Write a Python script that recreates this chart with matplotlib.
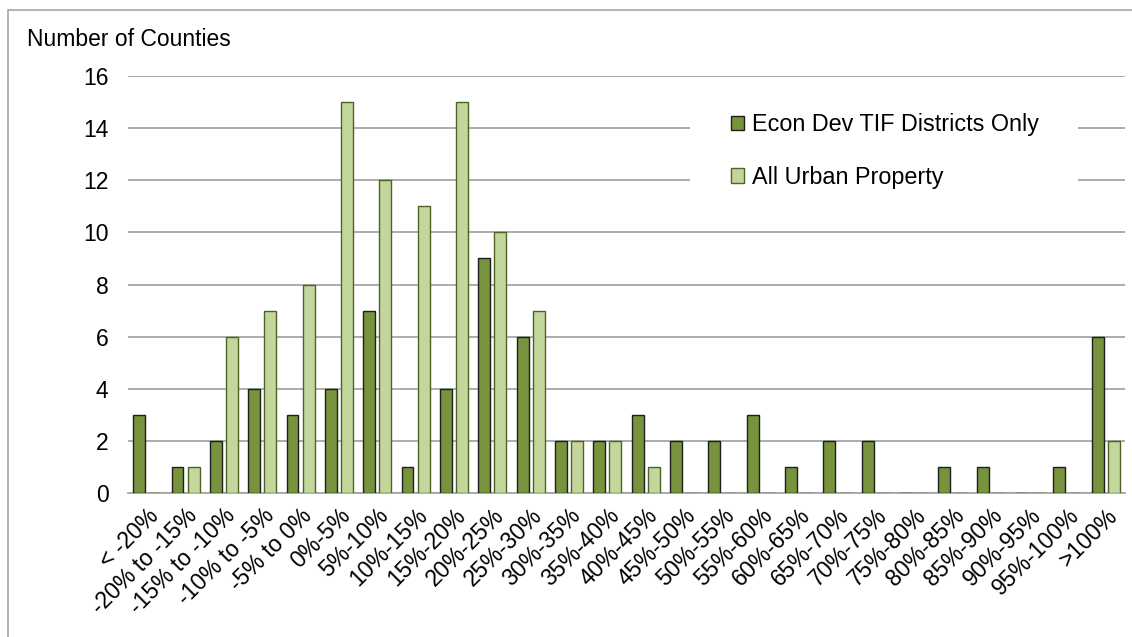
import matplotlib
matplotlib.use("Agg")
import matplotlib.pyplot as plt
import numpy as np
from matplotlib.patches import Rectangle

plt.rcParams['font.family'] = ['Liberation Sans', 'DejaVu Sans']

categories = ["< -20%", "-20% to -15%", "-15% to -10%", "-10% to -5%", "-5% to 0%",
              "0%-5%", "5%-10%", "10%-15%", "15%-20%", "20%-25%", "25%-30%",
              "30%-35%", "35%-40%", "40%-45%", "45%-50%", "50%-55%", "55%-60%",
              "60%-65%", "65%-70%", "70%-75%", "75%-80%", "80%-85%", "85%-90%",
              "90%-95%", "95%-100%", ">100%"]
econ_dev = [3, 1, 2, 4, 3, 4, 7, 1, 4, 9, 6, 2, 2, 3, 2, 2, 3, 1, 2, 2, 0, 1, 1, 0, 1, 6]
all_urban = [0, 1, 6, 7, 8, 15, 12, 11, 15, 10, 7, 2, 2, 1, 0, 0, 0, 0, 0, 0, 0, 0, 0, 0, 0, 2]
y_ticks = [0, 2, 4, 6, 8, 10, 12, 14, 16]

FS = 16.5
fig = plt.figure(figsize=(11.32, 6.37), dpi=100)
ax = fig.add_axes([128 / 1132, 1 - 493 / 637, (1125 - 128) / 1132, (493 - 76) / 637])

x = np.arange(len(categories))
w = 0.31
off = 0.21
dark = "#77933C"
light = "#C3D69B"
ax.bar(x - off, econ_dev, width=w, color=dark, edgecolor="#1e1e1e", linewidth=1.0,
       label="Econ Dev TIF Districts Only", zorder=3)
ax.bar(x + off, all_urban, width=w, color=light, edgecolor="#4F6228", linewidth=1.0,
       label="All Urban Property", zorder=3)

ax.set_xlim(-0.5, len(categories) - 0.5)
ax.set_ylim(0, 16)
ax.set_yticks(y_ticks)
ax.set_yticklabels([str(v) for v in y_ticks], fontsize=FS)
ax.set_xticks(x)
ax.set_xticklabels(categories, rotation=45, ha="right", rotation_mode="anchor", fontsize=FS)
ax.tick_params(axis="both", length=0)
ax.tick_params(axis="y", pad=14)
ax.tick_params(axis="x", pad=8)
ax.yaxis.grid(True, color="#A6A6A6", linewidth=1.3, zorder=0)
ax.set_axisbelow(True)
for side in ["top", "right", "left"]:
    ax.spines[side].set_visible(False)
ax.spines["bottom"].set_color("#A6A6A6")
ax.spines["bottom"].set_linewidth(1.3)

# white panel behind the legend, interrupting the gridlines
ax.add_patch(Rectangle((0.5637, 0.70), 0.389, 0.245, transform=ax.transAxes,
                       facecolor="white", edgecolor="none", zorder=1))

leg = ax.legend(loc="upper left", bbox_to_anchor=(0.605, 0.911),
                frameon=False, fontsize=16.8, handlelength=0.55, handleheight=0.55,
                handletextpad=0.35, labelspacing=1.27, borderpad=0, borderaxespad=0)
leg.set_zorder(5)

fig.text(27 / 1132, 1 - 40 / 637, "Number of Counties", fontsize=FS, va="center", ha="left")

border = Rectangle((8 / 1132, -0.05), 1.2, 1 - 10 / 637 + 0.05, transform=fig.transFigure,
                   fill=False, edgecolor="#A6A6A6", linewidth=1.2, clip_on=False)
fig.patches.append(border)

fig.savefig("out.png", dpi=100)
